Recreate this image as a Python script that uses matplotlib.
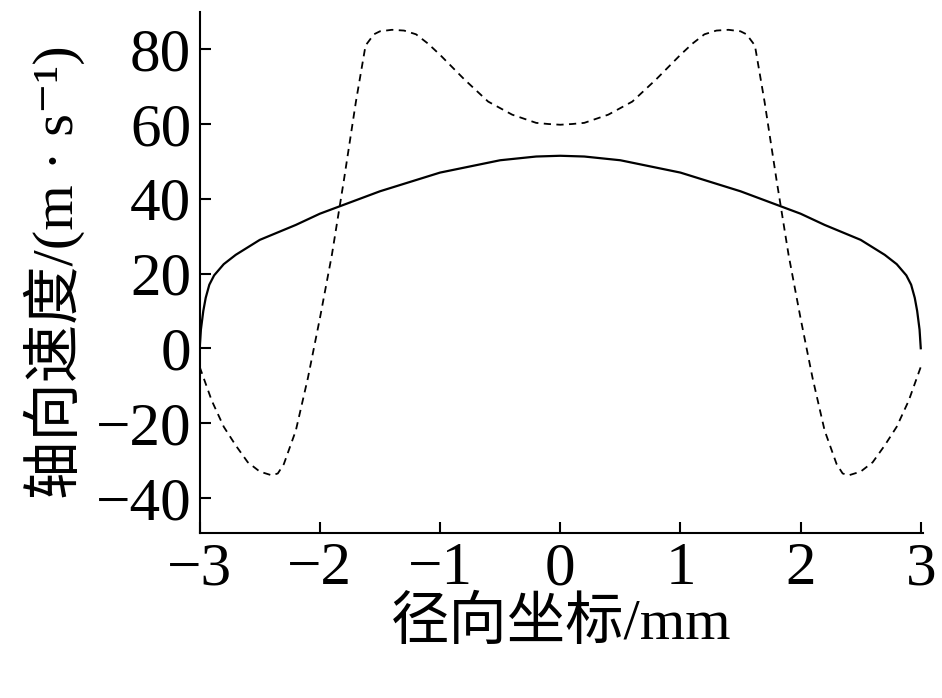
import matplotlib
matplotlib.use("Agg")
import matplotlib.pyplot as plt

x_solid = [-3.0,-2.99,-2.97,-2.95,-2.92,-2.88,-2.8,-2.7,-2.5,-2.2,-2.0,-1.5,-1.0,-0.5,-0.2,0.0,0.2,0.5,1.0,1.5,2.0,2.2,2.5,2.7,2.8,2.88,2.92,2.95,2.97,2.99,3.0]
y_solid = [0,5,10,13.5,17,19.5,22.5,25,29,33,36,42,47,50.3,51.3,51.5,51.3,50.3,47,42,36,33,29,25,22.5,19.5,17,13.5,10,5,0]

x_dash = [-3.0,-2.9,-2.8,-2.7,-2.6,-2.5,-2.4,-2.35,-2.3,-2.2,-2.1,-2.0,-1.9,-1.8,-1.7,-1.62,-1.55,-1.5,-1.4,-1.3,-1.2,-1.1,-1.0,-0.8,-0.6,-0.4,-0.2,-0.1,0.0,
          0.1,0.2,0.4,0.6,0.8,1.0,1.1,1.2,1.3,1.4,1.5,1.55,1.62,1.7,1.8,1.9,2.0,2.1,2.2,2.3,2.35,2.4,2.5,2.6,2.7,2.8,2.9,3.0]
y_dash = [-5,-14,-21,-26,-30.5,-33,-34,-33.5,-31,-22,-8,8,25,45,66,81,84,84.8,85.2,85,84,81.5,78.5,72,66,62.5,60.3,60,59.8,
          60,60.3,62.5,66,72,78.5,81.5,84,85,85.2,84.8,84,81,66,45,25,8,-8,-22,-31,-33.5,-34,-33,-30.5,-26,-21,-14,-5]

xticks = [-3,-2,-1,0,1,2,3]
yticks = [-40,-20,0,20,40,60,80]

plt.rcParams["font.family"] = ["Liberation Serif", "Noto Sans CJK SC", "DejaVu Serif"]
fig = plt.figure(figsize=(9.42,6.98), dpi=100)
ax = fig.add_axes([0.212,0.236,0.768,0.747])
ax.plot(x_solid, y_solid, color="black", lw=1.6)
ax.plot(x_dash, y_dash, color="black", lw=1.3, ls=(0,(4,3)))
ax.set_xlim(-3,3.02)
ax.set_ylim(-49.5,90)
ax.set_xticks(xticks)
ax.set_yticks(yticks)
ax.set_xticklabels(["\u22123","\u22122","\u22121","0","1","2","3"])
ax.set_yticklabels(["\u221240","\u221220","0","20","40","60","80"])
ax.tick_params(direction="in", length=8, width=1.5, labelsize=44, pad=6)
for s in ["top","right"]:
    ax.spines[s].set_visible(False)
for s in ["left","bottom"]:
    ax.spines[s].set_linewidth(1.5)
ax.set_xlabel("径向坐标/mm", fontsize=42, labelpad=0)
ax.set_ylabel("轴向速度/(m · s\u207b\u00b9)", fontsize=42, labelpad=8)
fig.savefig("out.png", dpi=100)
